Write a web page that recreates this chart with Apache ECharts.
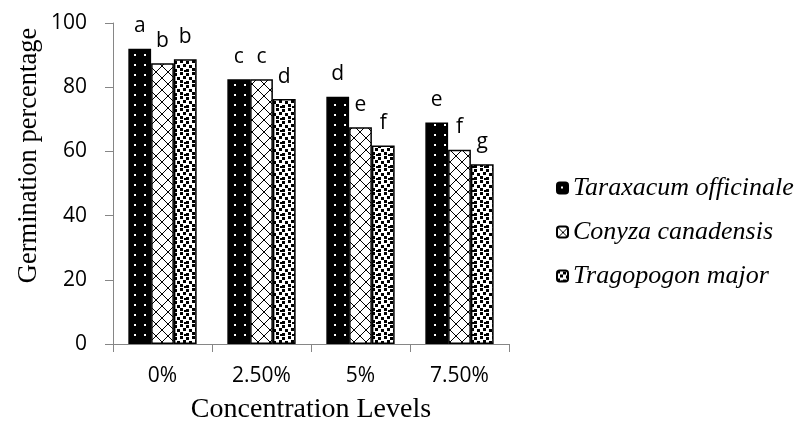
<!DOCTYPE html>
<html>
<head>
<meta charset="utf-8">
<script src="https://cdn.jsdelivr.net/npm/echarts@6/dist/echarts.min.js"></script>
<style>
  html, body { margin: 0; padding: 0; background: #fff; }
  #chart { width: 800px; height: 428px; }
</style>
</head>
<body>
<div id="chart"></div>
<script>
// Concentration levels on the x axis
const categories = ['0%', '2.50%', '5%', '7.50%'];

// Germination percentage per species
const seriesNames = ['Taraxacum officinale', 'Conyza canadensis', 'Tragopogon major'];
const taraxacumValues = [92, 82.5, 77, 69];
const conyzaValues = [87.5, 82.5, 67.5, 60.5];
const tragopogonValues = [88.7, 76.3, 61.8, 56];

// Significance letters above each bar
const taraxacumLetters = ['a', 'c', 'd', 'e'];
const conyzaLetters = ['b', 'c', 'e', 'f'];
const tragopogonLetters = ['b', 'd', 'f', 'g'];

// Y axis tick values
const yTicks = [0, 20, 40, 60, 80, 100];

// Fill patterns for the bars
function makePattern(size, draw) {
  const c = document.createElement('canvas');
  c.width = size; c.height = size;
  const ctx = c.getContext('2d');
  draw(ctx, size);
  return c;
}
const dotPattern = makePattern(10, (ctx, s) => {
  ctx.fillStyle = '#000'; ctx.fillRect(0, 0, s, s);
  ctx.fillStyle = '#fff'; ctx.fillRect(4, 4, 2, 2);
});
const crossPattern = makePattern(12, (ctx, s) => {
  ctx.fillStyle = '#fff'; ctx.fillRect(0, 0, s, s);
  ctx.strokeStyle = '#000'; ctx.lineWidth = 1;
  ctx.beginPath();
  ctx.moveTo(0, 0); ctx.lineTo(s, s);
  ctx.moveTo(s, 0); ctx.lineTo(0, s);
  ctx.stroke();
});
const confettiPattern = makePattern(12, (ctx, s) => {
  ctx.fillStyle = '#fff'; ctx.fillRect(0, 0, s, s);
  ctx.fillStyle = '#000';
  [[0, 0], [6, 1], [3, 4], [9, 5], [0, 8], [6, 9], [4, 10]]
    .forEach(([x, y]) => ctx.fillRect(x, y, 3, 3));
});

const patterns = [dotPattern, crossPattern, confettiPattern];
const values = [taraxacumValues, conyzaValues, tragopogonValues];
const letters = [taraxacumLetters, conyzaLetters, tragopogonLetters];

const sansFont = '"Open Sans", sans-serif';
const serifFont = '"Liberation Serif", "Times New Roman", serif';

const chart = echarts.init(document.getElementById('chart'), null, { renderer: 'canvas' });

chart.setOption({
  animation: false,
  backgroundColor: '#fff',
  grid: { left: 113, right: 291, top: 23, bottom: 84, containLabel: false, outerBoundsMode: 'none' },
  legend: {
    orient: 'vertical',
    left: 551,
    top: 169,
    itemWidth: 11,
    itemHeight: 11,
    itemGap: 16,
    data: seriesNames,
    textStyle: {
      fontFamily: serifFont,
      fontStyle: 'italic',
      fontSize: 26,
      lineHeight: 28,
      color: '#000'
    }
  },
  xAxis: {
    type: 'category',
    data: categories,
    name: 'Concentration Levels',
    nameLocation: 'middle',
    nameGap: 52,
    nameTextStyle: { fontFamily: serifFont, fontSize: 28, color: '#000' },
    axisLine: { lineStyle: { color: '#868686', width: 1 } },
    axisTick: { show: true, length: 8, lineStyle: { color: '#868686' } },
    axisLabel: { fontFamily: sansFont, fontSize: 21, color: '#000', margin: 22 }
  },
  yAxis: {
    type: 'value',
    min: yTicks[0],
    max: yTicks[yTicks.length - 1],
    interval: yTicks[1] - yTicks[0],
    name: 'Germination percentage',
    nameLocation: 'middle',
    nameGap: 70,
    nameTextStyle: { fontFamily: serifFont, fontSize: 26.5, color: '#000', padding: [0, 0, 0, 56] },
    splitLine: { show: false },
    axisLine: { show: true, lineStyle: { color: '#868686', width: 1 } },
    axisTick: { show: true, length: 8, lineStyle: { color: '#868686' } },
    axisLabel: { fontFamily: sansFont, fontSize: 21, color: '#000', margin: 26 }
  },
  series: seriesNames.map((name, i) => ({
    name: name,
    type: 'bar',
    data: values[i],
    barGap: '0%',
    barCategoryGap: '31%',
    itemStyle: {
      color: { image: patterns[i], repeat: 'repeat' },
      borderColor: '#000',
      borderWidth: 1.5
    },
    label: {
      show: true,
      position: 'top',
      distance: 12,
      fontFamily: sansFont,
      fontSize: 21,
      color: '#000',
      formatter: p => letters[i][p.dataIndex]
    }
  }))
});
</script>
</body>
</html>
